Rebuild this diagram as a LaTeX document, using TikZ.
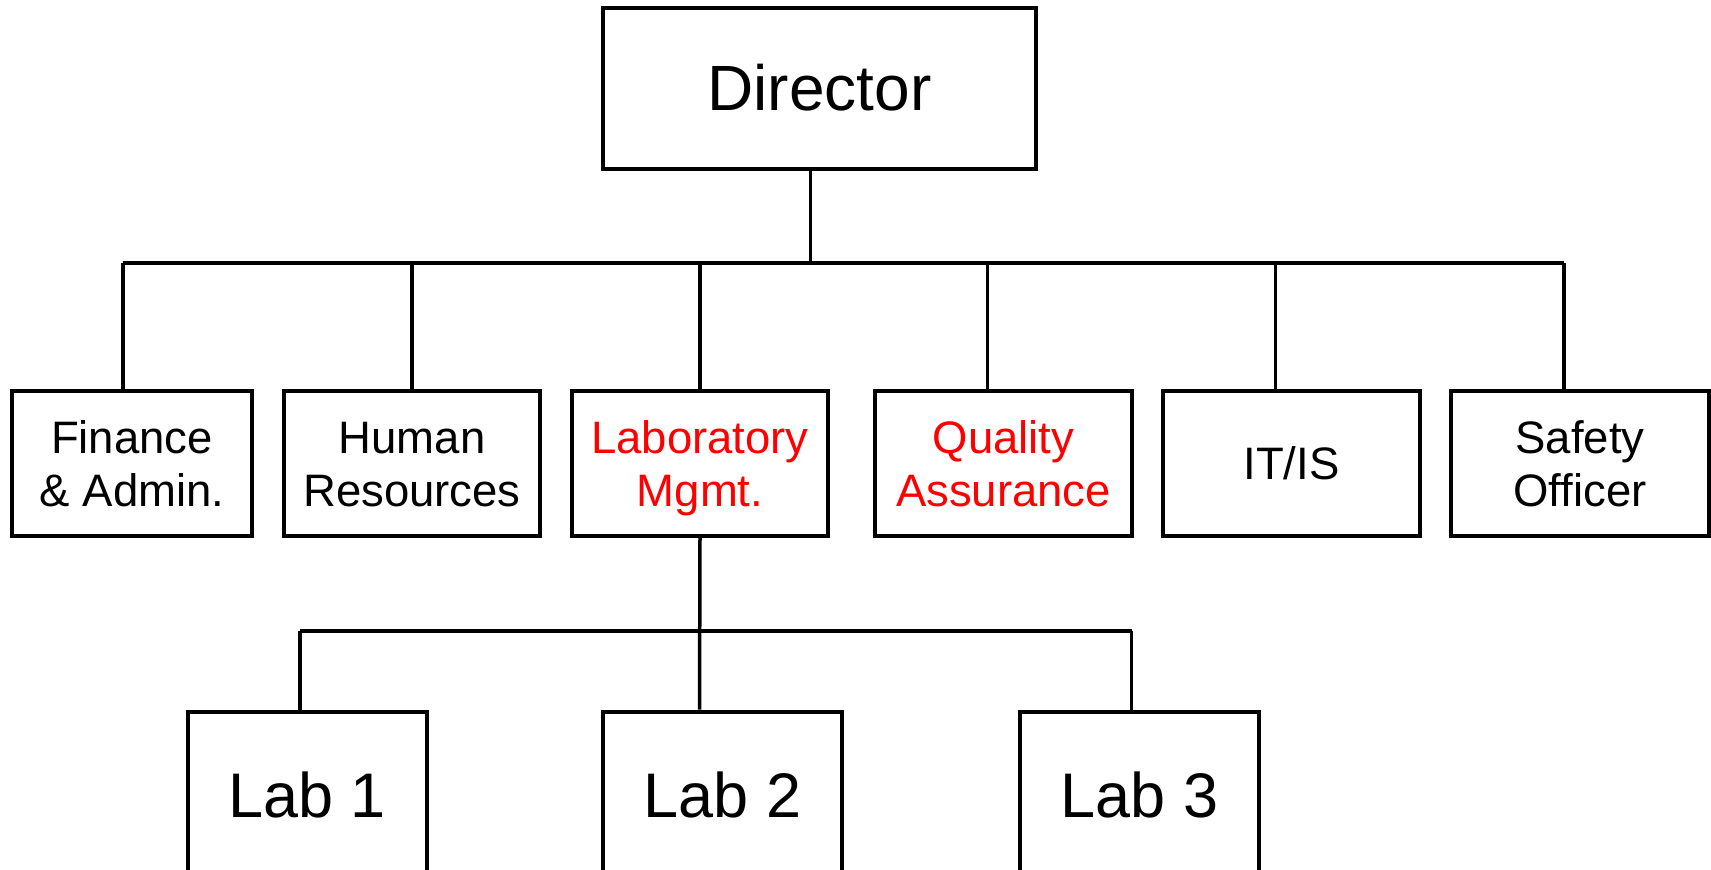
\documentclass[tikz,border=0pt]{standalone}
\usepackage{fontspec}
\setmainfont{Liberation Sans}
\newcommand{\toprule}{\rule{0pt}{49pt}}
\begin{document}
\begin{tikzpicture}[x=1pt,y=-1pt,
  box/.style={draw, line width=4pt, inner sep=0pt, align=center, anchor=center},
  conn/.style={line width=3.5pt},
  big/.style={font=\fontsize{64}{76}\selectfont},
  mid/.style={font=\fontsize{45.5}{53}\selectfont},
  rowbox/.style={box, mid, minimum height=145pt},
  labbox/.style={box, font=\fontsize{63}{75}\selectfont, minimum width=239pt, minimum height=167pt}]
\useasboundingbox (0,0) rectangle (1711,870);
\clip (0,0) rectangle (1711,870);
% nodes
\node[box, big, minimum width=433pt, minimum height=161pt] (dir) at (819.5,88) {Director};
\node[rowbox, minimum width=240pt] (fin) at (132,463) {\toprule Finance\\\& Admin.\strut};
\node[rowbox, minimum width=256pt] (hr) at (412,463) {\toprule Human\\Resources\strut};
\node[rowbox, minimum width=256pt, text=red] (lm) at (700,463) {\toprule Laboratory\\Mgmt.\strut};
\node[rowbox, minimum width=257pt, text=red] (qa) at (1003.5,463) {\toprule Quality\\Assurance\strut};
\node[rowbox, minimum width=257pt] (it) at (1291.5,463) {\toprule IT/IS\strut};
\node[rowbox, minimum width=258pt] (so) at (1580,463) {\toprule Safety\\Officer\strut};
\node[labbox] (l1) at (307,795) {Lab 1};
\node[labbox] (l2) at (722.5,795) {Lab 2};
\node[labbox] (l3) at (1139.5,795) {Lab 3};
% buses
\coordinate (busL) at (123,263);
\coordinate (busR) at (1564,263);
\coordinate (lbusL) at (300,631);
\coordinate (lbusR) at (1132,631);
\draw[conn] (busL) -- (busR);
\draw[conn] ([xshift=-9pt]dir.south) -- ([xshift=-9pt]dir.south |- busL);
\draw[conn] ([xshift=-9pt]fin.north) -- ([xshift=-9pt]fin.north |- busL);
\draw[conn] (hr.north) -- (hr.north |- busL);
\draw[conn] (lm.north) -- (lm.north |- busL);
\draw[conn] ([xshift=-16pt]qa.north) -- ([xshift=-16pt]qa.north |- busL);
\draw[conn] ([xshift=-16pt]it.north) -- ([xshift=-16pt]it.north |- busL);
\draw[conn] ([xshift=-16pt]so.north) -- ([xshift=-16pt]so.north |- busL);
% lab bus
\draw[conn] (lbusL) -- (lbusR);
\draw[conn] (lm.south) -- ([xshift=-23pt]l2.north);
\draw[conn] ([xshift=-7pt]l1.north) -- ([xshift=-7pt]l1.north |- lbusL);
\draw[conn] ([xshift=-8pt]l3.north) -- ([xshift=-8pt]l3.north |- lbusL);
\end{tikzpicture}
\end{document}
